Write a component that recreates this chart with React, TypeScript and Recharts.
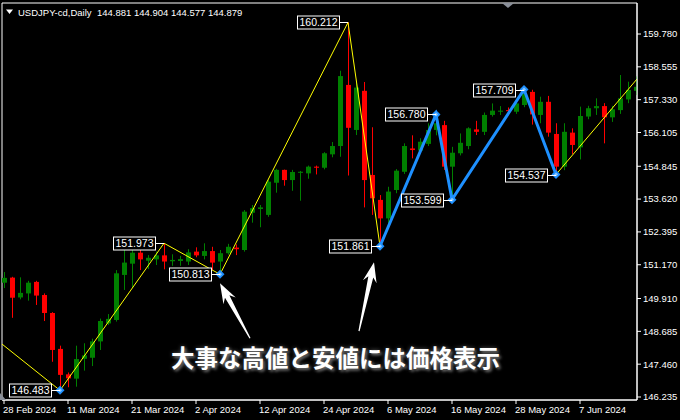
import React from "react";
import {
  ComposedChart,
  XAxis,
  YAxis,
  Bar,
  Line,
  ReferenceDot,
  ReferenceArea
} from "recharts";

// USDJPY-cd daily candles, 28 Feb 2024 .. 18 Jun 2024 (one entry per bar)
const opens = [
  150.50, 150.69, 149.95, 150.10, 150.53, 150.04, 149.37, 148.03, 147.08, 146.92,
  147.66, 147.70, 148.31, 148.98, 149.11, 150.79, 151.21, 151.62, 151.32, 151.37,
  151.52, 151.30, 151.31, 151.29, 151.66, 151.50, 151.68, 151.29, 151.60, 151.81,
  151.72, 153.11, 153.25, 153.03, 154.23, 154.71, 154.33, 154.60, 154.58, 154.83,
  154.79, 155.29, 155.60, 157.88, 156.20, 157.66, 154.52, 153.59, 152.90, 153.96,
  154.64, 155.51, 155.43, 155.68, 156.20, 156.38, 154.83, 155.33, 155.60, 156.22,
  156.13, 156.76, 156.88, 156.94, 156.88, 157.13, 157.62, 156.76, 157.25, 156.05,
  154.83, 156.10, 155.55, 156.70, 157.01, 157.09, 156.67, 156.94, 157.34, 157.66
];
const highs = [
  150.90, 150.72, 150.70, 150.57, 150.57, 150.10, 149.40, 148.15, 147.15, 148.15,
  148.24, 148.41, 149.16, 149.33, 150.97, 151.78, 151.84, 151.75, 151.53, 151.66,
  151.973, 151.56, 151.50, 151.75, 151.82, 151.97, 151.84, 151.72, 151.95, 151.93,
  153.21, 153.40, 153.40, 154.35, 154.75, 154.72, 154.71, 154.67, 154.87, 154.87,
  155.37, 155.75, 158.41, 160.212, 157.94, 157.99, 156.30, 153.77, 154.08, 154.74,
  155.70, 156.00, 155.89, 156.45, 156.78, 156.54, 155.57, 156.07, 156.30, 156.54,
  156.85, 157.19, 157.09, 157.04, 157.32, 157.709, 157.70, 157.44, 157.47, 156.45,
  156.45, 156.26, 157.07, 157.10, 157.38, 157.20, 157.10, 158.25, 158.00, 158.20
];
const lows = [
  150.30, 149.19, 149.88, 149.83, 149.67, 149.07, 147.55, 146.483, 146.60, 146.62,
  147.22, 147.39, 147.99, 148.92, 149.05, 150.23, 150.30, 150.97, 151.01, 151.16,
  151.00, 151.13, 151.13, 151.16, 151.45, 151.37, 150.97, 150.813, 151.55, 151.53,
  151.66, 152.74, 152.57, 152.96, 153.86, 154.12, 153.93, 153.56, 154.38, 154.54,
  154.73, 155.18, 155.20, 154.50, 156.01, 153.31, 153.03, 151.861, 152.72, 153.84,
  154.56, 155.14, 155.38, 155.60, 156.00, 154.71, 153.599, 155.25, 155.48, 156.01,
  156.01, 156.70, 156.76, 156.82, 156.80, 157.05, 156.40, 156.45, 155.95, 154.537,
  154.70, 155.30, 155.10, 156.60, 156.76, 155.70, 156.50, 156.80, 157.20, 157.50
];
const closes = [
  150.68, 149.94, 150.12, 150.50, 150.02, 149.37, 147.99, 147.06, 146.93, 147.65,
  147.79, 148.31, 149.07, 149.15, 150.85, 151.25, 151.62, 151.37, 151.43, 151.52,
  151.29, 151.35, 151.38, 151.63, 151.52, 151.68, 151.25, 151.60, 151.84, 151.75,
  153.15, 153.28, 153.31, 154.27, 154.71, 154.33, 154.63, 154.64, 154.83, 154.79,
  155.33, 155.60, 158.21, 156.28, 157.78, 154.33, 153.65, 152.90, 153.90, 154.68,
  155.60, 155.45, 155.76, 156.20, 156.45, 154.83, 155.35, 155.72, 156.26, 156.13,
  156.76, 156.92, 156.92, 156.90, 157.19, 157.57, 156.78, 157.25, 156.10, 154.83,
  156.13, 155.64, 156.72, 157.01, 157.09, 156.67, 156.97, 157.38, 157.69, 157.81
];

const xTickIdx = [0, 8, 16, 24, 32, 40, 48, 56, 64, 72];
const xTickLabels = [
  "28 Feb 2024", "11 Mar 2024", "21 Mar 2024", "2 Apr 2024", "12 Apr 2024",
  "24 Apr 2024", "6 May 2024", "16 May 2024", "28 May 2024", "7 Jun 2024"
];
const yTicks = [
  146.235, 147.46, 148.685, 149.91, 151.17, 152.395,
  153.62, 154.845, 156.105, 157.33, 158.555, 159.78
];

// zigzag (yellow) and the latest swing legs (blue)
const zigIdx = [-0.25, 7, 20, 27, 43, 47, 54, 56, 65, 69, 79.125];
const zigVal = [148.21, 146.483, 151.973, 150.813, 160.212, 151.861, 156.78, 153.599, 157.709, 154.537, 158.1];
const blueIdx = [47, 54, 56, 65, 69];
const blueVal = [151.861, 156.78, 153.599, 157.709, 154.537];

// labelled pivots
const pivotIdx = [7, 20, 27, 43, 47, 54, 56, 65, 69];
const pivotVal = [146.483, 151.973, 150.813, 160.212, 151.861, 156.78, 153.599, 157.709, 154.537];
const diamondIdx = [7, 27, 47, 54, 56, 65, 69];

const X_DOMAIN = [-0.25, 79.125];
const Y_DOMAIN = [146.123, 160.937];
const FONT = "'Liberation Sans', Arial, sans-serif";
const BULL = "#008000";
const BEAR = "#ff0000";
const BLUE = "#1e90ff";

const candles = opens.map((o, i) => ({
  i,
  o,
  h: highs[i],
  l: lows[i],
  c: closes[i],
  range: [lows[i], highs[i]]
}));
const zigData = zigIdx.map((i, k) => ({ i, v: zigVal[k] }));
const blueData = blueIdx.map((i, k) => ({ i, v: blueVal[k] }));

const Candle = (props: any) => {
  const { x, y, width, height, payload } = props;
  if (!payload || height == null) return null;
  const top = Math.min(y, y + height);
  const bot = Math.max(y, y + height);
  const span = payload.h - payload.l;
  const k = span > 0 ? (bot - top) / span : 0;
  const py = (v: number) => top + (payload.h - v) * k;
  const cx = Math.round(x + width / 2);
  const color = payload.c >= payload.o ? BULL : BEAR;
  const bTop = py(Math.max(payload.o, payload.c));
  const bBot = py(Math.min(payload.o, payload.c));
  return (
    <g>
      <rect x={cx} y={top} width={1} height={Math.max(1, bot - top)} fill={color} />
      <rect x={cx - 2} y={bTop} width={5} height={Math.max(1, bBot - bTop)} fill={color} />
    </g>
  );
};

const XTick = (props: any) => {
  const { x, y, payload } = props;
  const k = xTickIdx.indexOf(payload.value);
  return (
    <text x={x - 1} y={y} dy="0.71em" fill="#fff" fontSize={9.5} fontFamily={FONT} textAnchor="start">
      {xTickLabels[k]}
    </text>
  );
};

const pivotLabel = (text: string) => (props: any) => {
  const { cx, cy } = props;
  const right = Math.round(cx) - 9;
  const w = 42;
  const mid = Math.round(cy) + 0.5;
  return (
    <g>
      <line x1={right} y1={mid} x2={cx} y2={mid} stroke="#fff" strokeWidth={1} />
      <rect x={right - w + 0.5} y={mid - 6.5} width={w} height={13} fill="#000" stroke="#fff" strokeWidth={1} />
      <text x={right - w / 2 + 0.5} y={mid} dy="0.36em" textAnchor="middle" fill="#fff" fontSize={10.5} fontFamily={FONT}>
        {text}
      </text>
    </g>
  );
};

const Diamond = (props: any) => {
  const { cx, cy } = props;
  const r = 4.5;
  return (
    <g>
      <polygon points={`${cx},${cy - r} ${cx + r},${cy} ${cx},${cy + r} ${cx - r},${cy}`} fill={BLUE} />
      <polygon points={`${cx},${cy - 2} ${cx + 2},${cy} ${cx},${cy + 2} ${cx - 2},${cy}`} fill="#8cc8ff" />
    </g>
  );
};

// white pointer arrow, tip/tail given as offsets from the anchor pivot
const arrow = (tdx: number, tdy: number, sdx: number, sdy: number) => (props: any) => {
  const { cx, cy } = props;
  const px = cx + tdx, py = cy + tdy;
  const tx = cx + sdx, ty = cy + sdy;
  const len = Math.hypot(px - tx, py - ty);
  const dx = (px - tx) / len, dy = (py - ty) / len;
  const nx = -dy, ny = dx;
  const p = (a: number, b: number) => `${px - dx * a + nx * b},${py - dy * a + ny * b}`;
  const pts = [
    `${px},${py}`,
    p(20, 7),
    p(15, 2.5),
    `${tx + nx * 0.6},${ty + ny * 0.6}`,
    `${tx - nx * 0.6},${ty - ny * 0.6}`,
    p(15, -2.5),
    p(20, -7)
  ].join(" ");
  return <polygon points={pts} fill="#fff" />;
};

export default function App() {
  return (
    <div style={{ position: "absolute", left: 0, top: 0, width: 680, height: 420, background: "#000", overflow: "hidden" }}>
      <ComposedChart width={680} height={420} data={candles} margin={{ top: 3, right: 0, bottom: 0, left: 2 }}>
        <XAxis
          dataKey="i"
          type="number"
          domain={X_DOMAIN}
          allowDataOverflow
          ticks={xTickIdx}
          interval={0}
          tick={<XTick />}
          tickSize={4}
          height={20}
          stroke="#fff"
        />
        <YAxis
          orientation="right"
          type="number"
          domain={Y_DOMAIN}
          allowDataOverflow
          ticks={yTicks}
          interval={0}
          width={43}
          tickSize={4}
          stroke="#fff"
          tickFormatter={(v: number) => v.toFixed(3)}
          tick={{ fill: "#fff", fontSize: 9.5, fontFamily: FONT }}
        />
        <ReferenceArea x1={X_DOMAIN[0]} x2={X_DOMAIN[1]} y1={Y_DOMAIN[0]} y2={Y_DOMAIN[1]} fill="none" stroke="#fff" strokeOpacity={1} fillOpacity={0} />
        <Bar dataKey="range" shape={<Candle />} barSize={6} isAnimationActive={false} />
        <Line data={zigData} dataKey="v" type="linear" stroke="#ffff00" strokeWidth={1} dot={false} isAnimationActive={false} />
        <Line data={blueData} dataKey="v" type="linear" stroke={BLUE} strokeWidth={3} dot={false} isAnimationActive={false} />
        {diamondIdx.map((i) => (
          <ReferenceDot key={"d" + i} x={i} y={pivotVal[pivotIdx.indexOf(i)]} r={4} shape={Diamond} />
        ))}
        {pivotIdx.map((i, k) => (
          <ReferenceDot key={"p" + i} x={i} y={pivotVal[k]} r={4} shape={pivotLabel(pivotVal[k].toFixed(3))} />
        ))}
        <ReferenceDot x={27} y={150.813} r={4} shape={arrow(0, 9, 30, 64)} />
        <ReferenceDot x={47} y={151.861} r={4} shape={arrow(-6, 16, -21, 85)} />
      </ComposedChart>
      <svg width={680} height={420} style={{ position: "absolute", left: 0, top: 0, pointerEvents: "none" }}>
        <polygon points="6,9.5 13,9.5 9.5,14" fill="#fff" />
        <text x={18} y={15.5} fill="#fff" fontSize={9.5} fontFamily={FONT}>
          USDJPY-cd,Daily
        </text>
        <text x={97} y={15.5} fill="#fff" fontSize={9.5} fontFamily={FONT}>
          144.881 144.904 144.577 144.879
        </text>
        <polygon points="502,3 514,3 508,8" fill="#8a8f99" />
        <polygon points="0,393 0,400 6,400" fill="#8a8f99" />
      </svg>
      <div
        style={{
          position: "absolute",
          left: 171,
          top: 345,
          fontFamily: "'Noto Sans CJK JP', sans-serif",
          fontWeight: 700,
          fontSize: 23.5,
          lineHeight: "24px",
          color: "#fff",
          whiteSpace: "nowrap",
          textShadow: "2px 2px 3px #666, 0 0 4px #555"
        }}
      >
        大事な高値と安値には価格表示
      </div>
    </div>
  );
}
